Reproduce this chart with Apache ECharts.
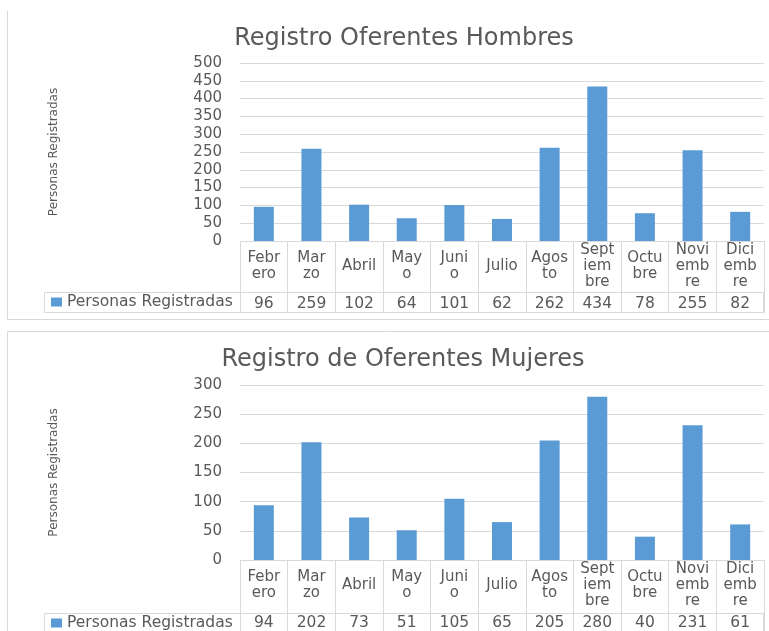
<!DOCTYPE html>
<html>
<head>
<meta charset="utf-8">
<script src="https://cdn.jsdelivr.net/npm/echarts@6/dist/echarts.min.js"></script>
<style>
  html, body { margin: 0; padding: 0; background: #fff; }
  #container { width: 769px; height: 631px; }
</style>
</head>
<body>
<div id="container"></div>
<script>
// datos
const months = ['Febrero', 'Marzo', 'Abril', 'Mayo', 'Junio', 'Julio', 'Agosto',
                'Septiembre', 'Octubre', 'Noviembre', 'Diciembre'];
// etiquetas tal como quedan cortadas en la tabla de Excel
const monthLabels = ['Febr\nero', 'Mar\nzo', 'Abril', 'May\no', 'Juni\no', 'Julio', 'Agos\nto',
                     'Sept\niem\nbre', 'Octu\nbre', 'Novi\nemb\nre', 'Dici\nemb\nre'];
const hombres = [96, 259, 102, 64, 101, 62, 262, 434, 78, 255, 82];
const mujeres = [94, 202, 73, 51, 105, 65, 205, 280, 40, 231, 61];
const seriesName = 'Personas Registradas';
const titles = ['Registro Oferentes Hombres', 'Registro de Oferentes Mujeres'];
const yMax = [500, 300];
const yStep = 50;

const FONT = 'DejaVu Sans';
const TXT = '#595959';
const LINE = '#D9D9D9';
const BAR = '#5B9BD5';

class ChartGenerator {
    constructor(containerId) {
        this.container = document.getElementById(containerId);
        this.chart = echarts.init(this.container, null, { renderer: 'canvas' });

        const grids = [
            { left: 240, right: 5, top: 63, height: 178 },
            { left: 240, right: 5, top: 385, height: 177 }
        ];
        const data = [hombres, mujeres];

        const xAxis = [];
        const yAxis = [];
        const series = [];
        grids.forEach((g, i) => {
            // fila de meses (la linea superior y las verticales de la tabla)
            xAxis.push({
                type: 'category',
                gridIndex: i,
                data: months,
                axisLine: { show: true, lineStyle: { color: LINE } },
                axisTick: { show: true, length: 72, interval: 0, lineStyle: { color: LINE } },
                axisLabel: {
                    interval: 0,
                    margin: 25,
                    verticalAlign: 'middle',
                    lineHeight: 16,
                    fontFamily: FONT,
                    fontSize: 15,
                    color: TXT,
                    formatter: (v, idx) => monthLabels[idx]
                }
            });
            // fila de valores
            xAxis.push({
                type: 'category',
                gridIndex: i,
                data: months,
                position: 'bottom',
                offset: 51,
                axisLine: { show: false },
                axisTick: { show: false },
                axisLabel: {
                    interval: 0,
                    margin: 12,
                    verticalAlign: 'middle',
                    fontFamily: FONT,
                    fontSize: 15.5,
                    color: TXT,
                    formatter: (v, idx) => String(data[i][idx])
                }
            });
            yAxis.push({
                type: 'value',
                gridIndex: i,
                min: 0,
                max: yMax[i],
                interval: yStep,
                name: seriesName,
                nameLocation: 'middle',
                nameGap: 180,
                nameTextStyle: { fontFamily: FONT, fontSize: 12, color: TXT },
                axisLine: { show: false },
                axisTick: { show: false },
                axisLabel: { margin: 18, fontFamily: FONT, fontSize: 15, color: TXT },
                splitLine: { lineStyle: { color: LINE } }
            });
            series.push({
                name: seriesName,
                type: 'bar',
                xAxisIndex: i * 2,
                yAxisIndex: i,
                data: data[i],
                barWidth: 20,
                itemStyle: { color: BAR }
            });
        });

        const titleStyle = { fontFamily: FONT, fontSize: 24, fontWeight: 'normal', color: TXT };
        const legendBase = {
            data: [seriesName], left: 51, padding: 0, itemWidth: 11, itemHeight: 9,
            icon: 'rect', selectedMode: false,
            textStyle: { fontFamily: FONT, fontSize: 15.5, color: TXT }
        };

        this.option = {
            animation: false,
            backgroundColor: '#fff',
            title: [
                { text: titles[0], left: 399, top: 22, textAlign: 'center', textStyle: titleStyle },
                { text: titles[1], left: 398, top: 343, textAlign: 'center', textStyle: titleStyle }
            ],
            legend: [
                Object.assign({ top: 294 }, legendBase),
                Object.assign({ top: 615 }, legendBase)
            ],
            grid: grids,
            xAxis: xAxis,
            yAxis: yAxis,
            series: series,
            graphic: [
                // marcos de los graficos (solo bordes visibles)
                { type: 'polyline', silent: true,
                  shape: { points: [[7.5, 11], [7.5, 319.5], [769, 319.5]] },
                  style: { fill: 'none', stroke: LINE, lineWidth: 1 } },
                { type: 'polyline', silent: true,
                  shape: { points: [[7.5, 631], [7.5, 331.5], [769, 331.5]] },
                  style: { fill: 'none', stroke: LINE, lineWidth: 1 } },
                // celda de la leyenda / fila de valores
                { type: 'rect', silent: true, shape: { x: 44.5, y: 292.5, width: 719, height: 20 },
                  style: { fill: 'none', stroke: LINE, lineWidth: 1 } },
                { type: 'rect', silent: true, shape: { x: 44.5, y: 613.5, width: 719, height: 20 },
                  style: { fill: 'none', stroke: LINE, lineWidth: 1 } }
            ]
        };

        this.chart.setOption(this.option);
        window.addEventListener('resize', () => this.chart.resize());
    }
}

const chartInstance = new ChartGenerator('container');
</script>
</body>
</html>
